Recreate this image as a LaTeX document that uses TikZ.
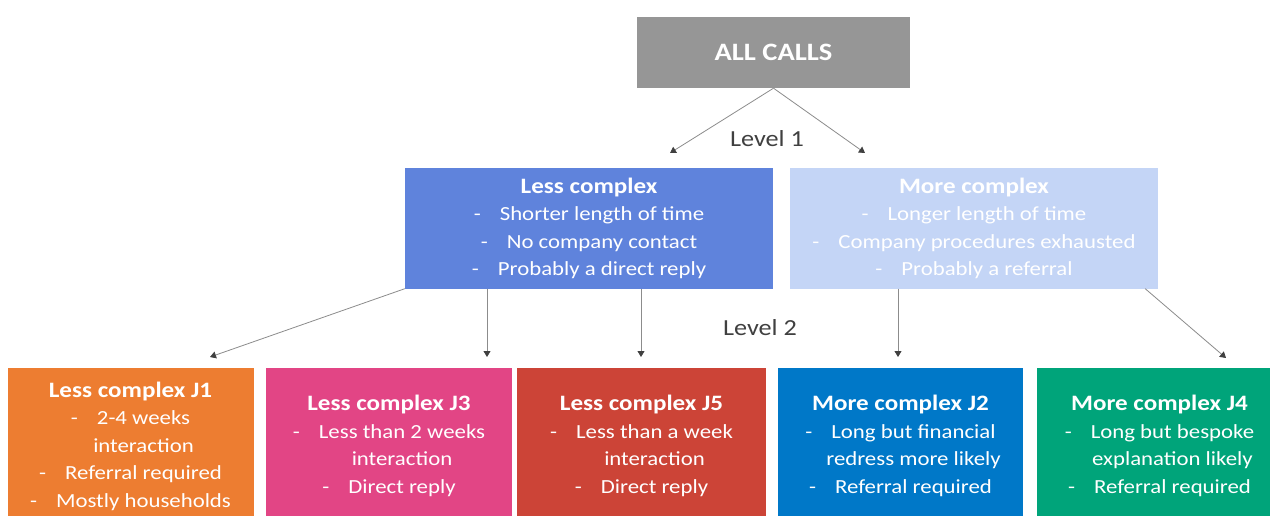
\documentclass[tikz,border=0pt]{standalone}
\usepackage{fontspec}
\setmainfont{Carlito}[FakeStretch=1.14]
\usetikzlibrary{arrows.meta}

\definecolor{allgray}{HTML}{969696}
\definecolor{lessblue}{HTML}{5F83DC}
\definecolor{moreblue}{HTML}{C4D5F6}
\definecolor{jorange}{HTML}{ED7D31}
\definecolor{jpink}{HTML}{E24585}
\definecolor{jred}{HTML}{CC4437}
\definecolor{jblue}{HTML}{0078C8}
\definecolor{jgreen}{HTML}{00A47A}
\definecolor{linegray}{HTML}{8C8C8C}
\definecolor{labelgray}{HTML}{404040}

% one dashed list line, and a continuation line with the same hanging indent
\newcommand\dashline[1]{\makebox[26pt][l]{-}#1}
\newcommand\hangline[1]{\hphantom{\makebox[26pt][l]{-}}#1}
\newcommand\boxtitle[1]{{\fontsize{22}{27}\selectfont\bfseries #1}}

\tikzset{
  box/.style={rectangle, inner sep=0pt, text=white, align=center,
    font=\fontsize{20}{27.5}\selectfont},
  levelbox/.style={box, minimum width=368pt, minimum height=120pt},
  leafbox/.style={box, minimum width=246pt, minimum height=156pt},
  link/.style={draw=linegray, line width=0.8pt,
    -{Triangle[width=7pt,length=6pt,fill=labelgray,color=labelgray]}},
  levellabel/.style={text=labelgray, font=\fontsize{23}{28}\selectfont}
}

\begin{document}
\begin{tikzpicture}[x=1pt,y=-1pt]
\useasboundingbox (0,0) rectangle (1270,516);
\clip (0,0) rectangle (1270,516);
\fill[white] (0,0) rectangle (1270,516);

% root
\node[box, fill=allgray, minimum width=273pt, minimum height=71pt,
      font=\fontsize{25}{30}\selectfont\bfseries] (all) at (773.5,52.5) {ALL CALLS};

% first level
\node[levelbox, fill=lessblue] (less) at (589,228.5)
  {\boxtitle{Less complex}\\
   \dashline{Shorter length of time}\\
   \dashline{No company contact}\\
   \dashline{Probably a direct reply}};
\node[levelbox, fill=moreblue] (more) at (974,228.5)
  {\boxtitle{More complex}\\
   \dashline{Longer length of time}\\
   \dashline{Company procedures exhausted}\\
   \dashline{Probably a referral}};

% second level
\node[leafbox, fill=jorange] (j1) at (130.5,446)
  {\boxtitle{Less complex J1}\\
   \dashline{2-4 weeks}\\
   \hangline{interaction}\\
   \dashline{Referral required}\\
   \dashline{Mostly households}};
\node[leafbox, fill=jpink] (j3) at (389,446)
  {\boxtitle{Less complex J3}\\
   \dashline{Less than 2 weeks}\\
   \hangline{interaction}\\
   \dashline{Direct reply}};
\node[leafbox, fill=jred, minimum width=249pt] (j5) at (641.5,446)
  {\boxtitle{Less complex J5}\\
   \dashline{Less than a week}\\
   \hangline{interaction}\\
   \dashline{Direct reply}};
\node[leafbox, fill=jblue, minimum width=245pt] (j2) at (900.5,446)
  {\boxtitle{More complex J2}\\
   \dashline{Long but financial}\\
   \hangline{redress more likely}\\
   \dashline{Referral required}};
\node[leafbox, fill=jgreen, minimum width=245pt] (j4) at (1159.5,446)
  {\boxtitle{More complex J4}\\
   \dashline{Long but bespoke}\\
   \hangline{explanation likely}\\
   \dashline{Referral required}};

% level labels
\node[levellabel] (lvl1) at (767,139) {Level 1};
\node[levellabel] (lvl2) at (760,328) {Level 2};

% arrow end points just above the child boxes
\coordinate (t1) at (670,153);
\coordinate (t2) at (865,153);
\coordinate (tj1) at (210,357);
\coordinate (tj3) at (487,357);
\coordinate (tj5) at (641,357);
\coordinate (tj2) at (898,357);
\coordinate (tj4) at (1226,358);

\draw[link] (all.south) -- (t1);
\draw[link] (all.south) -- (t2);
\draw[link] (less.south west) -- (tj1);
\draw[link] (less.south west -| tj3) -- (tj3);
\draw[link] (less.south -| tj5) -- (tj5);
\draw[link] (more.south -| tj2) -- (tj2);
\draw[link] ([xshift=-13pt]more.south east) -- (tj4);
\end{tikzpicture}
\end{document}
